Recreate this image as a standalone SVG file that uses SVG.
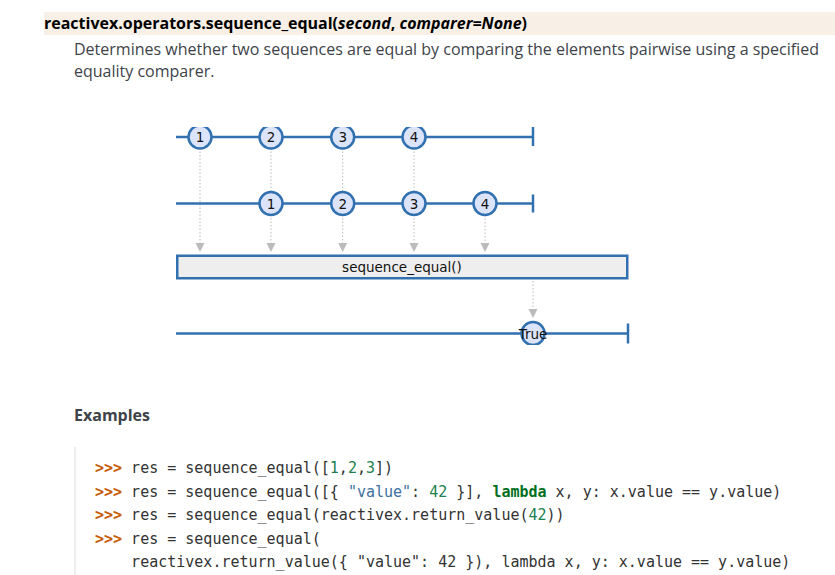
<svg xmlns="http://www.w3.org/2000/svg" width="835" height="575" viewBox="0 0 835 575">
  <defs>
    <style>
      .hdr { font-family: "Open Sans", "Noto Sans", sans-serif; font-size: 16px; font-weight: bold; fill: #000; }
      .body { font-family: "Open Sans", "Noto Sans", sans-serif; font-size: 16px; fill: #3e4349; }
      .code { font-family: "DejaVu Sans Mono", monospace; font-size: 15px; fill: #333; white-space: pre; }
      .pr { fill: #c65d09; font-weight: bold; }
      .num { fill: #208050; }
      .str { fill: #4070a0; }
      .kw { fill: #007020; font-weight: bold; }
      .tl { stroke: #3271b0; stroke-width: 2.5; fill: none; }
      .ev { stroke: #3271b0; stroke-width: 2.5; fill: #dbe4fb; }
      .lbl { font-family: "DejaVu Sans", sans-serif; font-size: 13.5px; fill: #111; text-anchor: middle; }
      .dot { stroke: #bbb; stroke-width: 1; stroke-dasharray: 1.5 2; fill: none; }
      .ah { fill: #bbb; }
    </style>
    <clipPath id="clip1"><rect x="160" y="127" width="500" height="218"/></clipPath>
  </defs>

  <rect x="0" y="0" width="835" height="575" fill="#fff"/>

  <g id="header">
    <rect x="44" y="12" width="791" height="23" fill="#f8f0e6"/>
    <text class="hdr" x="44" y="29" textLength="483">reactivex.operators.sequence_equal(<tspan font-style="italic">second</tspan>, <tspan font-style="italic">comparer=None</tspan>)</text>
  </g>

  <g id="description">
    <text class="body" x="74" y="55" textLength="745">Determines whether two sequences are equal by comparing the elements pairwise using a specified</text>
    <text class="body" x="74" y="77">equality comparer.</text>
  </g>

  <g clip-path="url(#clip1)">
    <g id="connectors">
      <line class="dot" x1="200" y1="148" x2="200" y2="244"/>
      <line class="dot" x1="271" y1="148" x2="271" y2="244"/>
      <line class="dot" x1="342.7" y1="148" x2="342.7" y2="244"/>
      <line class="dot" x1="414" y1="148" x2="414" y2="244"/>
      <line class="dot" x1="485" y1="215" x2="485" y2="244"/>
      <polygon class="ah" points="195.5,243 204.5,243 200,252"/>
      <polygon class="ah" points="266.5,243 275.5,243 271,252"/>
      <polygon class="ah" points="338.2,243 347.2,243 342.7,252"/>
      <polygon class="ah" points="409.5,243 418.5,243 414,252"/>
      <polygon class="ah" points="480.5,243 489.5,243 485,252"/>
      <line class="dot" x1="533" y1="281" x2="533" y2="310"/>
      <polygon class="ah" points="528.5,309 537.5,309 533,318"/>
    </g>

    <g id="source1">
      <line class="tl" x1="176" y1="137" x2="533" y2="137"/>
      <line class="tl" x1="533" y1="127" x2="533" y2="146"/>
      <g id="s1e1"><circle class="ev" cx="200" cy="137" r="11.5"/><text class="lbl" x="200" y="142">1</text></g>
      <g id="s1e2"><circle class="ev" cx="271" cy="137" r="11.5"/><text class="lbl" x="271" y="142">2</text></g>
      <g id="s1e3"><circle class="ev" cx="342.7" cy="137" r="11.5"/><text class="lbl" x="342.7" y="142">3</text></g>
      <g id="s1e4"><circle class="ev" cx="414" cy="137" r="11.5"/><text class="lbl" x="414" y="142">4</text></g>
    </g>

    <g id="source2">
      <line class="tl" x1="176" y1="203.5" x2="533" y2="203.5"/>
      <line class="tl" x1="533" y1="194.5" x2="533" y2="212.5"/>
      <g id="s2e1"><circle class="ev" cx="271" cy="203.5" r="11.5"/><text class="lbl" x="271" y="208.5">1</text></g>
      <g id="s2e2"><circle class="ev" cx="342.7" cy="203.5" r="11.5"/><text class="lbl" x="342.7" y="208.5">2</text></g>
      <g id="s2e3"><circle class="ev" cx="414" cy="203.5" r="11.5"/><text class="lbl" x="414" y="208.5">3</text></g>
      <g id="s2e4"><circle class="ev" cx="485" cy="203.5" r="11.5"/><text class="lbl" x="485" y="208.5">4</text></g>
    </g>

    <g id="operator">
      <rect x="177.25" y="255.75" width="450" height="22.5" fill="#eeeeee" stroke="#3271b0" stroke-width="2.5"/>
      <text class="lbl" x="402" y="271.5" font-size="13px">sequence_equal()</text>
    </g>

    <g id="result">
      <line class="tl" x1="176" y1="333.5" x2="628" y2="333.5"/>
      <line class="tl" x1="628" y1="323.5" x2="628" y2="343.5"/>
      <g id="r1"><circle class="ev" cx="533" cy="333.5" r="11.5"/><text class="lbl" x="533" y="338.5">True</text></g>
    </g>
  </g>

  <g id="examples">
    <text class="body" x="74" y="421" font-weight="bold" fill="#222">Examples</text>
    <line x1="75" y1="447" x2="75" y2="575" stroke="#eee" stroke-width="2"/>
    <text class="code" x="95" y="473"><tspan class="pr">&gt;&gt;&gt;</tspan> res = sequence_equal([<tspan class="num">1</tspan>,<tspan class="num">2</tspan>,<tspan class="num">3</tspan>])</text>
    <text class="code" x="95" y="497"><tspan class="pr">&gt;&gt;&gt;</tspan> res = sequence_equal([{ <tspan class="str">"value"</tspan>: <tspan class="num">42</tspan> }], <tspan class="kw">lambda</tspan> x, y: x.value == y.value)</text>
    <text class="code" x="95" y="520"><tspan class="pr">&gt;&gt;&gt;</tspan> res = sequence_equal(reactivex.return_value(<tspan class="num">42</tspan>))</text>
    <text class="code" x="95" y="544"><tspan class="pr">&gt;&gt;&gt;</tspan> res = sequence_equal(</text>
    <text class="code" x="95" y="567">    reactivex.return_value({ "value": 42 }), lambda x, y: x.value == y.value)</text>
  </g>
</svg>
